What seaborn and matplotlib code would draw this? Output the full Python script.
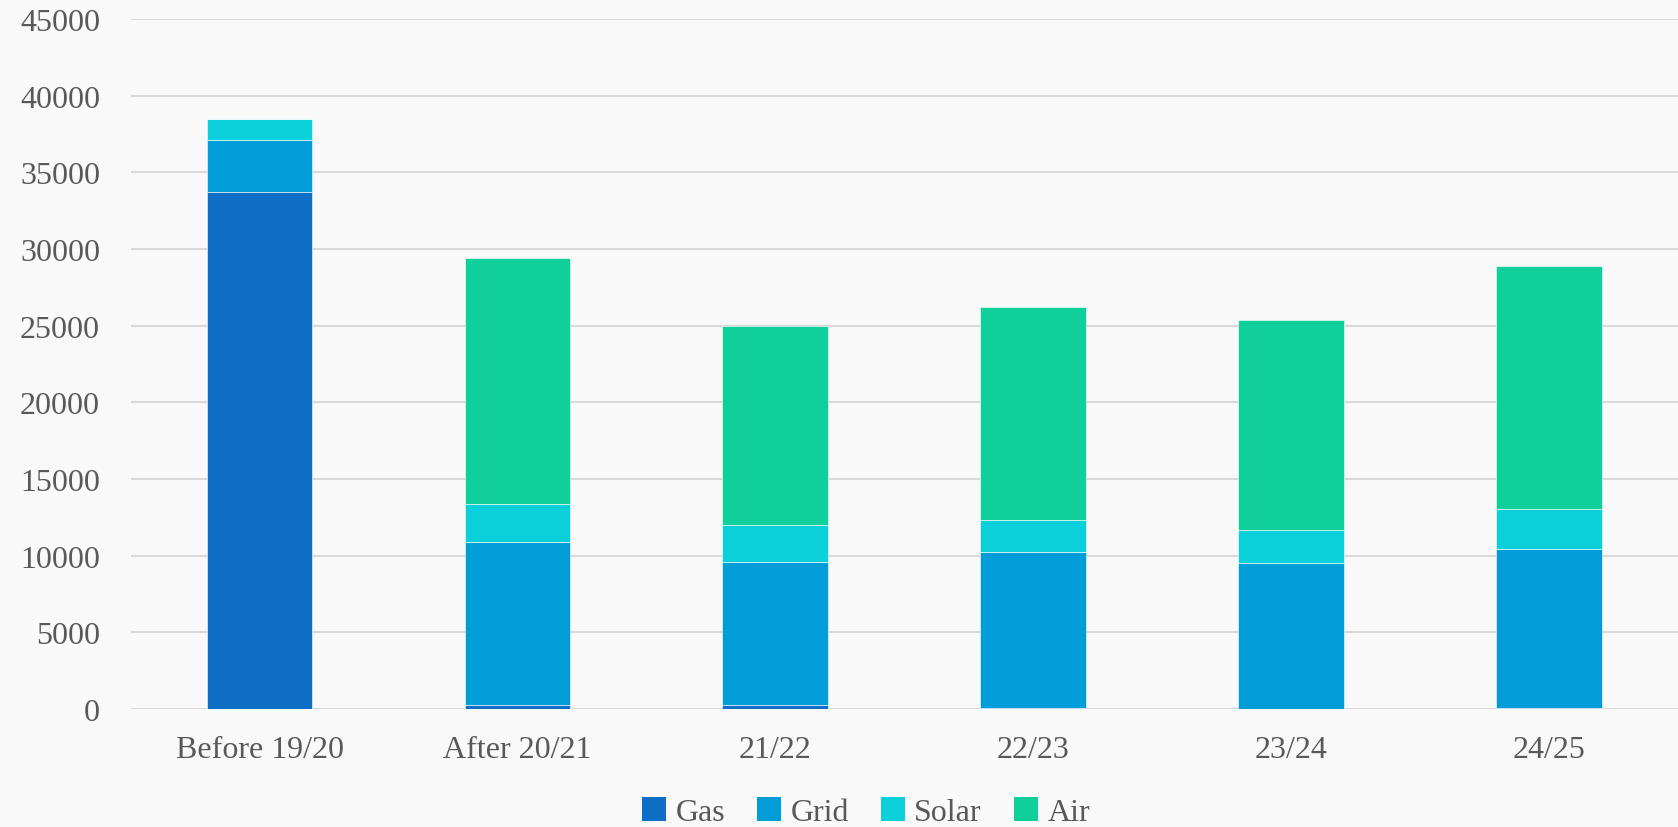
import matplotlib
matplotlib.use("Agg")
import matplotlib.pyplot as plt
import numpy as np
import pandas as pd
import seaborn as sns
from matplotlib.patches import Patch

years = ["Before 19/20", "After 20/21", "21/22", "22/23", "23/24", "24/25"]
gas = [33700, 250, 250, 80, 30, 80]
grid = [3400, 10670, 9340, 10140, 9490, 10330]
solar = [1400, 2450, 2380, 2090, 2150, 2630]
air = [0, 16040, 12980, 13900, 13710, 15830]

series = ["Gas", "Grid", "Solar", "Air"]
colors = ["#0F6FC6", "#009DD9", "#0BD0D9", "#10CF9B"]

df = pd.DataFrame({"year": years, "Gas": gas, "Grid": grid, "Solar": solar, "Air": air})

sns.set_style("white")
plt.rcParams["font.family"] = ["Liberation Serif", "DejaVu Serif"]
text_color = "#595959"

fig = plt.figure(figsize=(16.78, 8.28), dpi=100)
fig.patch.set_facecolor("#f9f9f9")
ax = fig.add_axes([0.0778, 0.1425, 0.9222, 0.8333])
ax.set_facecolor("#f9f9f9")

bottom = np.zeros(len(years))
for name, color in zip(series, colors):
    sns.barplot(data=df, x="year", y=name, color=color, bottom=bottom, width=0.41,
                saturation=1, edgecolor="white", linewidth=0.4, ax=ax, zorder=3)
    bottom = bottom + df[name].to_numpy()

ax.set_ylim(0, 45000)
ax.set_yticks(np.arange(0, 45001, 5000))
ax.yaxis.grid(True, color="#d9d9d9", linewidth=1.5, zorder=0)
ax.set_axisbelow(True)
for s in ax.spines.values():
    s.set_visible(False)
ax.set_xlabel("")
ax.set_ylabel("")
ax.tick_params(axis="both", length=0, labelcolor=text_color, labelsize=23)
ax.tick_params(axis="y", pad=22)
ax.tick_params(axis="x", pad=19)

handles = [Patch(facecolor=c, edgecolor="none") for c in colors]
fig.legend(handles, series, loc="center", bbox_to_anchor=(0.516, 0.018), ncol=4,
           frameon=False, fontsize=23, labelcolor=text_color, handlelength=0.75,
           handleheight=0.75, handletextpad=0.3, columnspacing=1.0)

fig.savefig("out.png", dpi=100, facecolor=fig.get_facecolor())
